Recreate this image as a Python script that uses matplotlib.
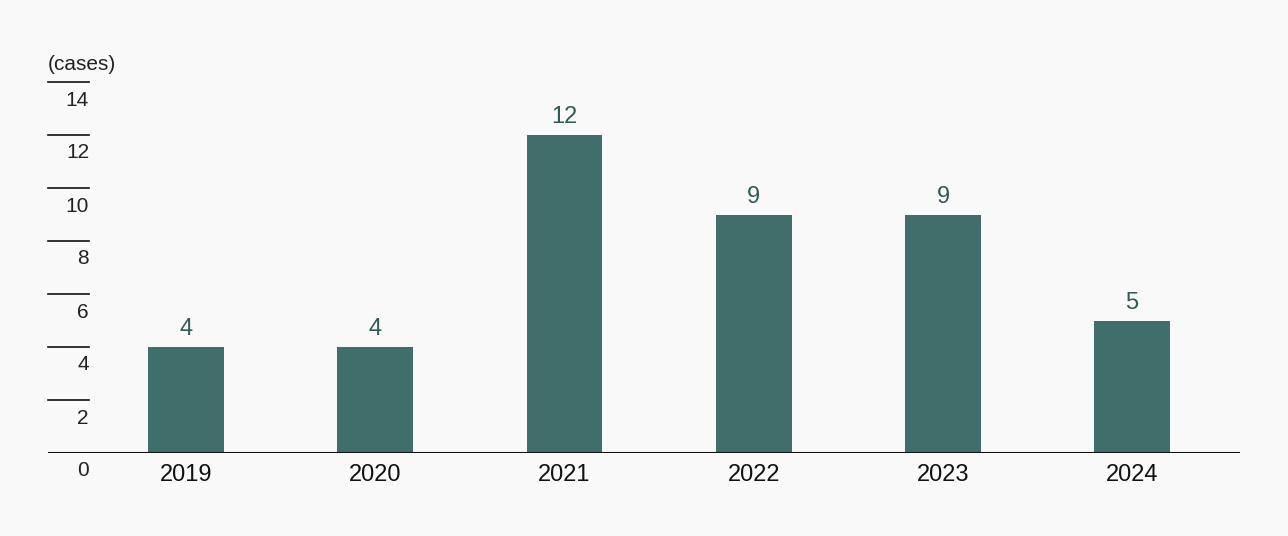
import matplotlib
matplotlib.use("Agg")
from matplotlib import pyplot as plt
from matplotlib.transforms import offset_copy

plt.rcParams['font.family'] = 'Liberation Sans'

years = ['2019', '2020', '2021', '2022', '2023', '2024']
cases = [4, 4, 12, 9, 9, 5]
yticks = [0, 2, 4, 6, 8, 10, 12, 14]

bar_color = '#406e6a'
label_color = '#2f5c57'
bg = '#f9f9f9'

fig = plt.figure(figsize=(12.88, 5.36), dpi=100, facecolor=bg)
ax = fig.add_axes([48/1288, 83/536, 1192/1288, 371/536], facecolor=bg)

x = list(range(len(years)))
ax.bar(x, cases, width=0.40, color=bar_color, zorder=2)
for xi, v in zip(x, cases):
    ax.annotate(str(v), (xi, v), xytext=(0, 5), textcoords='offset points',
                ha='center', va='bottom', fontsize=17, color=label_color)

ax.set_xlim(-0.73, 5.57)
ax.set_ylim(0, 14)
for s in ax.spines.values():
    s.set_visible(False)
ax.set_yticks([])
ax.set_xticks(x)
ax.set_xticklabels(years, fontsize=17, color='#111111')
ax.tick_params(axis='x', length=0, pad=8)

# baseline
ax.axhline(0, color='#111111', lw=1.5, zorder=3)
# short y tick lines with labels underneath
tick_w = 41 / 1192
trans = ax.get_yaxis_transform()
for t in yticks[1:]:
    ax.plot([0, tick_w], [t, t], transform=trans, color='#111111', lw=1.2, clip_on=False)
lab_trans = offset_copy(trans, fig=fig, x=0, y=-18, units='dots')
for t in yticks:
    ax.text(tick_w, t, str(t), transform=lab_trans, ha='right', va='center',
            fontsize=15, color='#222222')

ax.text(0, 1.0, '(cases)', transform=offset_copy(ax.transAxes, fig=fig, y=17, units='dots'),
        ha='left', va='center', fontsize=15, color='#222222')

fig.savefig('out.png', dpi=100, facecolor=bg)
